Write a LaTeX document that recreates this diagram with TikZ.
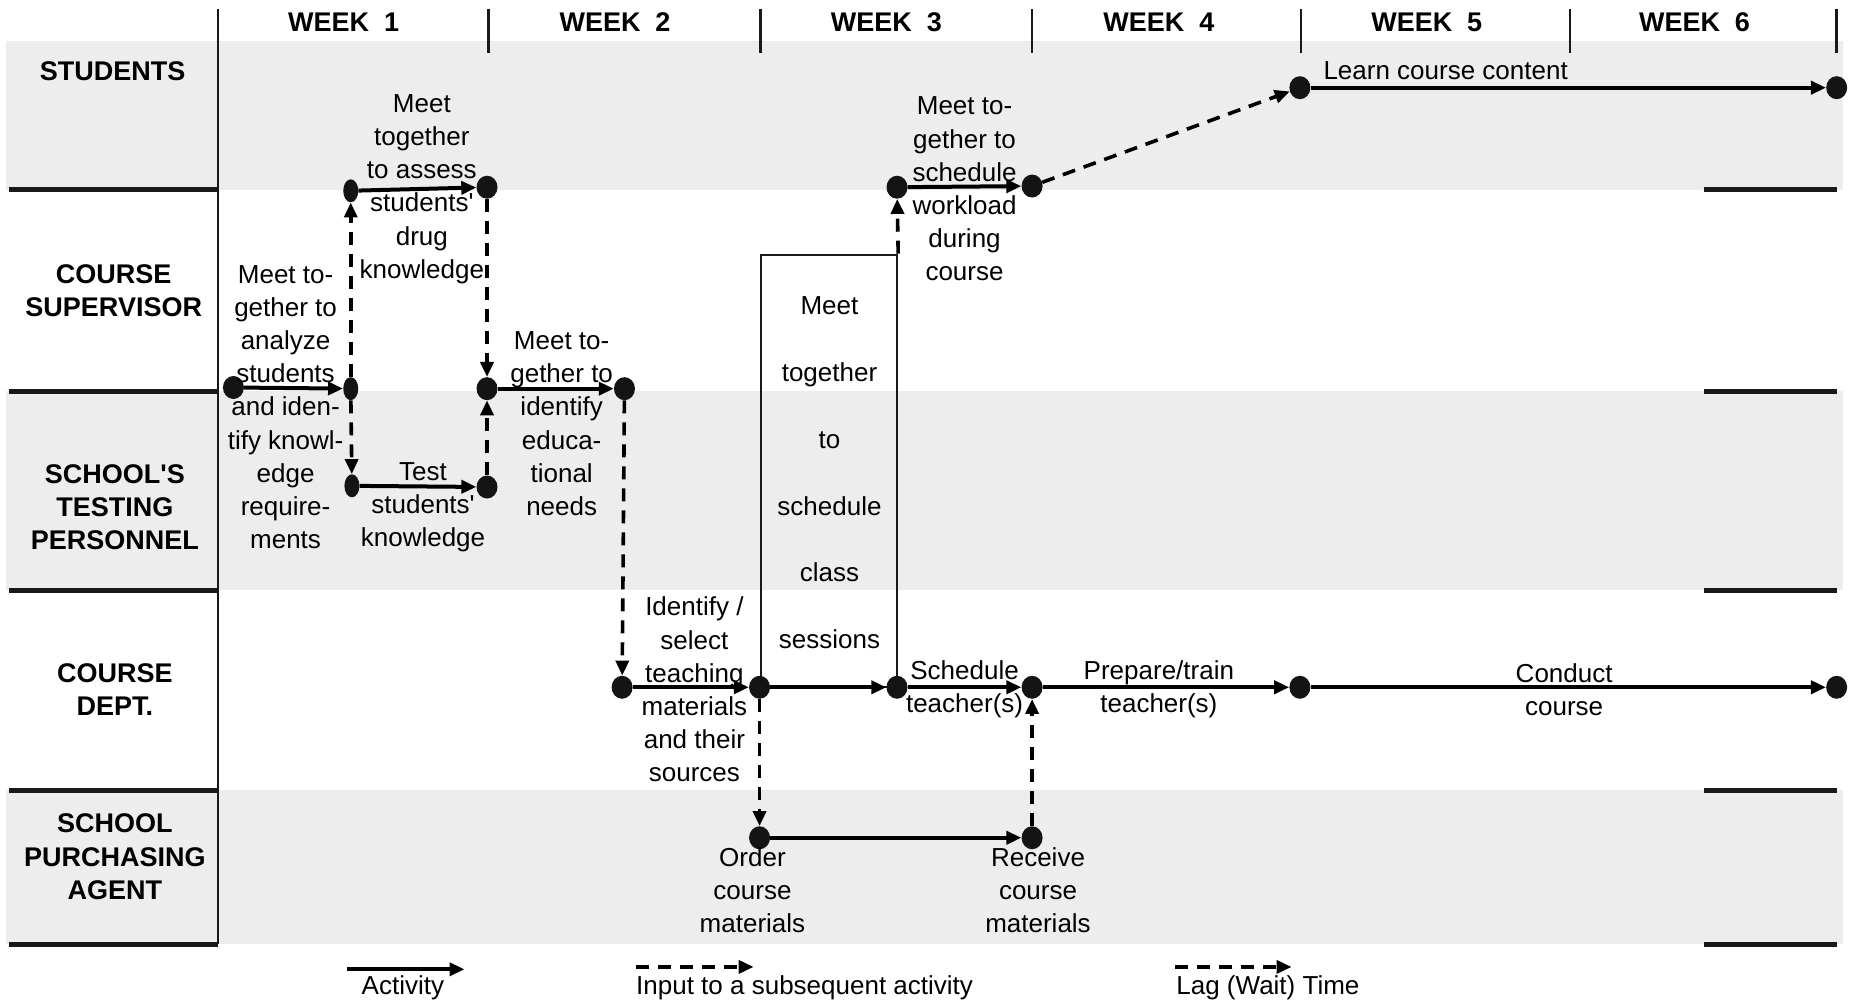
\documentclass[tikz,border=0pt]{standalone}
\usepackage{fontspec}
\usetikzlibrary{arrows.meta,shapes.geometric}
\newfontfamily\labelfont{Liberation Sans}
\begin{document}
\begin{tikzpicture}[x=1.18495pt,y=-1.18495pt,
  dot/.style={ellipse,fill=black!92,inner sep=0pt,minimum width=21pt,minimum height=23pt},
  slim/.style={ellipse,fill=black!92,inner sep=0pt,minimum width=15pt,minimum height=23pt},
  txt/.style={font=\labelfont\fontsize{26}{33.2}\selectfont,align=center,inner sep=0pt},
  boxtxt/.style={font=\labelfont\fontsize{26}{66.8}\selectfont,align=center,inner sep=0pt},
  lanelbl/.style={font=\labelfont\bfseries\fontsize{27}{33.2}\selectfont,align=center,inner sep=0pt},
  act/.style={line width=4pt,-{Triangle[length=15pt,width=13pt]}},
  inp/.style={line width=3.6pt,dash pattern=on 13pt off 9pt,-{Triangle[length=15pt,width=13pt]}},
  lanerule/.style={line width=5pt,black!90},
  vline/.style={line width=2.6pt,black!90},
  band/.style={fill=black!7}
]
\path[use as bounding box] (0,0) rectangle (1568,848);

% shaded lanes
\fill[band] (5,35) rectangle (1555,160);
\fill[band] (5,330) rectangle (1555,498);
\fill[band] (5,667) rectangle (1555,797);

% week grid
\draw[vline] (184,8) -- (184,797);
\foreach \x in {412,642,871,1098,1325,1550} \draw[vline] (\x,8) -- (\x,45);
\node[lanelbl] (wk1) at (290,19) {WEEK\hspace{0.55em}1};
\node[lanelbl] (wk2) at (519,19) {WEEK\hspace{0.55em}2};
\node[lanelbl] (wk3) at (748,19) {WEEK\hspace{0.55em}3};
\node[lanelbl] (wk4) at (978,19) {WEEK\hspace{0.55em}4};
\node[lanelbl] (wk5) at (1204,19) {WEEK\hspace{0.55em}5};
\node[lanelbl] (wk6) at (1430,19) {WEEK\hspace{0.55em}6};

% lane separators
\foreach \y in {160,330,498,667,797} {
  \draw[lanerule] (8,\y) -- (184,\y);
  \draw[lanerule] (1438,\y) -- (1550,\y);
}

% lane names
\node[lanelbl] (ln1) at (95,60) {STUDENTS};
\node[lanelbl] (ln2) at (96,245) {COURSE\\SUPERVISOR};
\node[lanelbl] (ln3) at (97,428) {SCHOOL'S\\TESTING\\PERSONNEL};
\node[lanelbl] (ln4) at (97,582) {COURSE\\DEPT.};
\node[lanelbl] (ln5) at (97,723) {SCHOOL\\PURCHASING\\AGENT};

% scheduling box
\node[draw,line width=2.6pt,black!90,minimum width=136pt,minimum height=432pt,inner sep=0pt] (box) at (699.5,397.5) {};
\node[boxtxt] (boxlbl) at (700,399) {Meet\\together\\to\\schedule\\class\\sessions};

% events
\node[dot]  (s1) at (197,327) {};
\node[slim] (s2) at (296,328) {};
\node[slim] (s3) at (296,161) {};
\node[dot]  (s4) at (411,158) {};
\node[dot]  (s5) at (411,328) {};
\node[slim] (t1) at (297,410) {};
\node[dot]  (t2) at (411,411) {};
\node[dot]  (s6) at (527,328) {};
\node[dot]  (c1) at (525,580) {};
\node[dot]  (c2) at (641,580) {};
\node[dot]  (c3) at (757,580) {};
\node[dot]  (c4) at (871,580) {};
\node[dot]  (c5) at (1097,580) {};
\node[dot]  (c6) at (1550,580) {};
\node[dot]  (p1) at (641,707) {};
\node[dot]  (p2) at (871,707) {};
\node[dot]  (w1) at (757,158) {};
\node[dot]  (w2) at (871,157) {};
\node[dot]  (u1) at (1097,74) {};
\node[dot]  (u2) at (1550,74) {};

% activities
\draw[act] (s1) -- (s2);
\draw[act] (s3) -- (s4);
\draw[act] (t1) -- (t2);
\draw[act] (s5) -- (s6);
\draw[act] (c1) -- (c2);
\draw[act] (c2) -- (c3);
\draw[act] (c3) -- (c4);
\draw[act] (c4) -- (c5);
\draw[act] (c5) -- (c6);
\draw[act] (p1) -- (p2);
\draw[act] (w1) -- (w2);
\draw[act] (u1) -- (u2);

% inputs and lag
\draw[inp] (s2) -- (s3);
\draw[inp] (s2) -- (t1);
\draw[inp] (s4) -- (s5);
\draw[inp] (t2) -- (s5);
\draw[inp] (s6) -- (c1);
\draw[inp] (c2) -- (p1);
\draw[inp] (p2) -- (c4);
\draw[inp] (box.north east) -- (w1);
\draw[inp] (w2) -- (u1);

% activity labels
\node[txt] (l1) at (241,343.5) {Meet to-\\gether to\\analyze\\students\\and iden-\\tify knowl-\\edge\\require-\\ments};
\node[txt] (l2) at (356,159.5) {Meet\\together\\to assess\\students'\\drug\\knowledge};
\node[txt] (l3) at (357,428) {Test\\students'\\knowledge};
\node[txt] (l4) at (474,357.5) {Meet to-\\gether to\\identify\\educa-\\tional\\needs};
\node[txt] (l5) at (586,582) {Identify /\\select\\teaching\\materials\\and their\\sources};
\node[txt] (l7) at (814,582) {Schedule\\teacher(s)};
\node[txt] (l8) at (978,582) {Prepare/train\\teacher(s)};
\node[txt] (l9) at (1320,582) {Conduct\\course};
\node[txt] (l10) at (635,751) {Order\\course\\materials};
\node[txt] (l11) at (876,751) {Receive\\course\\materials};
\node[txt] (l12) at (814,159.5) {Meet to-\\gether to\\schedule\\workload\\during\\course};
\node[txt] (l13) at (1220,60) {Learn course content};

% legend
\coordinate (ka0) at (293,818);
\coordinate (ka1) at (392,818);
\draw[act] (ka0) -- (ka1);
\node[txt] (kat) at (340,834) {Activity};
\coordinate (ki0) at (537,816);
\coordinate (ki1) at (636,816);
\draw[inp] (ki0) -- (ki1);
\node[txt] (kit) at (679,834) {Input to a subsequent activity};
\coordinate (kl0) at (992,816);
\coordinate (kl1) at (1090,816);
\draw[inp] (kl0) -- (kl1);
\node[txt] (klt) at (1070,834) {Lag (Wait) Time};
\end{tikzpicture}
\end{document}
